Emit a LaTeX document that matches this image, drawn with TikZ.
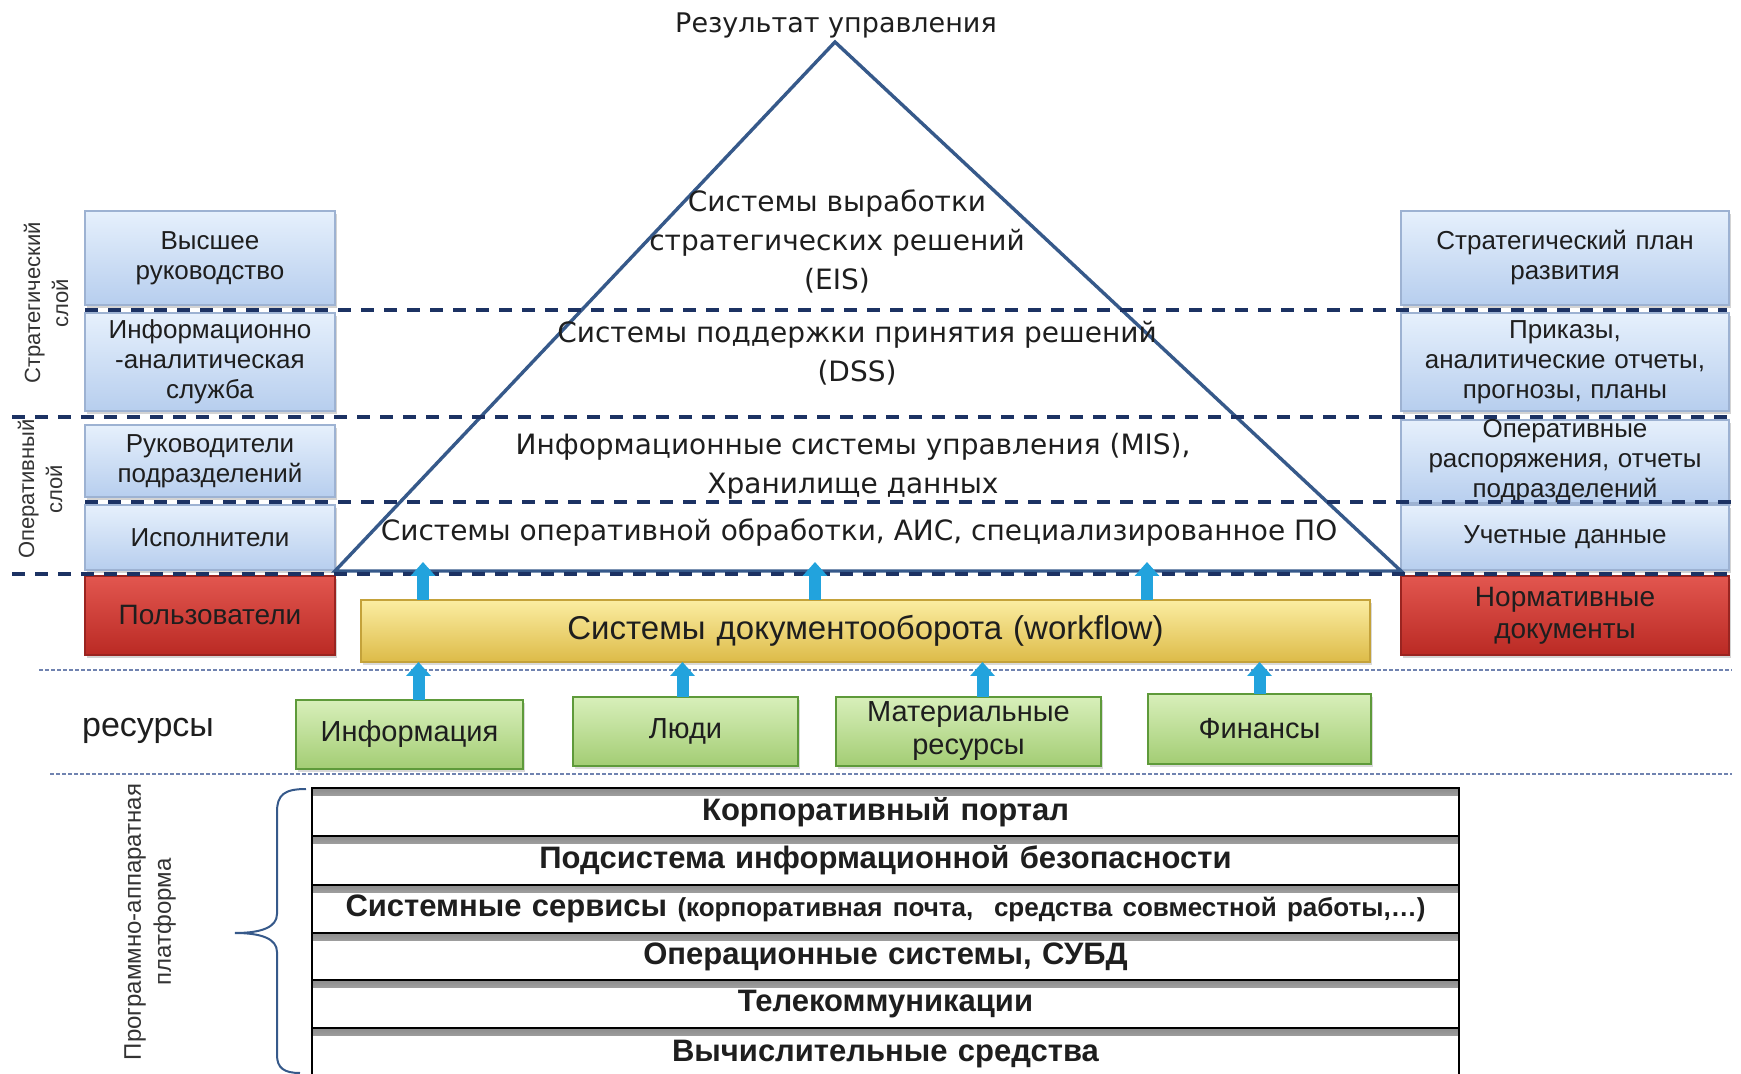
\documentclass[tikz,border=0pt]{standalone}
\usepackage{fontspec}
\setmainfont{Liberation Sans}
\newfontfamily\dvs{DejaVu Sans}
\usetikzlibrary{arrows.meta,shadows}
\definecolor{navy}{HTML}{1C3263}
\definecolor{triblue}{HTML}{36598A}
\definecolor{dotcol}{HTML}{7083B0}
\definecolor{sbTop}{HTML}{E6F0FC}
\definecolor{sbBot}{HTML}{B7CEEE}
\definecolor{sbLine}{HTML}{9DB2D2}
\definecolor{rTop}{HTML}{E2564F}
\definecolor{rBot}{HTML}{BA2A24}
\definecolor{rLine}{HTML}{9A2420}
\definecolor{yTop}{HTML}{FBEDA2}
\definecolor{yBot}{HTML}{DDBB48}
\definecolor{yLine}{HTML}{C4A23A}
\definecolor{gTop}{HTML}{D8EFBA}
\definecolor{gBot}{HTML}{A3CD74}
\definecolor{gLine}{HTML}{5E9A3A}
\definecolor{arrowBlue}{HTML}{22A3DD}
\definecolor{txt}{HTML}{1E1E1E}
\newcommand\mybox[7]{%
  \pgfmathsetmacro\pbW{(#5-#3)*0.5}%
  \pgfmathsetmacro\pbH{(#6-#4)*0.5}%
  \pgfmathsetmacro\pbT{(#5-#3)*0.5-6}%
  \node[#2, minimum width=\pbW pt, minimum height=\pbH pt, text width=\pbT pt] (#1) at ({(#3+#5)/2},{(#4+#6)/2}) {#7};}
\begin{document}
\begin{tikzpicture}[x=0.5pt,y=-0.5pt,
  bx/.style={inner sep=0pt, outer sep=0pt, align=center, text=txt},
  sbox/.style={bx, top color=sbTop, bottom color=sbBot, draw=sbLine, line width=0.8pt,
     drop shadow={shadow xshift=1pt, shadow yshift=-1.5pt, opacity=0.35},
     font=\fontsize{13}{15}\selectfont},
  rbox/.style={bx, top color=rTop, bottom color=rBot, draw=rLine, line width=0.8pt,
     drop shadow={shadow xshift=1pt, shadow yshift=-1.5pt, opacity=0.35},
     font=\fontsize{14}{16}\selectfont},
  ybox/.style={bx, top color=yTop, bottom color=yBot, draw=yLine, line width=0.8pt,
     drop shadow={shadow xshift=1pt, shadow yshift=-1.5pt, opacity=0.3},
     font=\fontsize{16.5}{18}\selectfont},
  gbox/.style={bx, top color=gTop, bottom color=gBot, draw=gLine, line width=1pt,
     drop shadow={shadow xshift=1pt, shadow yshift=-1.5pt, opacity=0.3},
     font=\fontsize{14.5}{16.5}\selectfont},
  rowbox/.style={bx, fill=white, draw=black, line width=1.2pt,
     path picture={\fill[top color=black!45, bottom color=white]
        (path picture bounding box.north west) rectangle ([yshift=-3.5pt]path picture bounding box.north east);},
     font=\bfseries\fontsize{15.5}{18}\selectfont},
  ptext/.style={align=center, text=txt, font=\dvs\fontsize{14}{19.5}\selectfont},
  sidelab/.style={rotate=90, align=center, text=black!80, font=\fontsize{11}{14}\selectfont},
  sep/.style={draw=navy, line width=1.8pt, dash pattern=on 6.5pt off 5pt},
  dotsep/.style={draw=dotcol, line width=1.2pt, dash pattern=on 2pt off 1pt},
  tri/.style={draw=triblue, line width=1.7pt, line join=miter},
  barrow/.style={draw=arrowBlue, line width=6pt, -{Triangle[width=12pt,length=7pt]}},
]
\useasboundingbox (0,0) rectangle (1741,1074);
\clip (0,0) rectangle (1741,1074);

% left boxes
\mybox{vr}{sbox}{85}{211}{335}{305}{Высшее\\руководство}
\mybox{ia}{sbox}{85}{313}{335}{411}{Информационно\\-аналитическая\\служба}
\mybox{rp}{sbox}{85}{425}{335}{497}{Руководители\\подразделений}
\mybox{isp}{sbox}{85}{505}{335}{570}{Исполнители}
\mybox{pol}{rbox}{85}{576}{335}{655}{Пользователи}

% right boxes
\mybox{sp}{sbox}{1401}{211}{1729}{305}{Стратегический план\\развития}
\mybox{pr}{sbox}{1401}{313}{1729}{411}{Приказы,\\аналитические отчеты,\\прогнозы, планы}
\mybox{op}{sbox}{1401}{423}{1729}{500}{Оперативные\\распоряжения, отчеты\\подразделений}
\mybox{ud}{sbox}{1401}{505}{1729}{570}{Учетные данные}
\mybox{nd}{rbox}{1401}{576}{1729}{655}{Нормативные\\документы}

% workflow
\mybox{wf}{ybox}{361}{600}{1370}{662}{Системы документооборота (workflow)}

% resources
\mybox{inf}{gbox}{296}{700}{523}{769}{Информация}
\mybox{ppl}{gbox}{573}{697}{798}{766}{Люди}
\mybox{mat}{gbox}{836}{697}{1101}{766}{Материальные\\ресурсы}
\mybox{fin}{gbox}{1148}{694}{1371}{764}{Финансы}

% platform rows
\mybox{r1}{rowbox}{312}{788}{1459}{836}{Корпоративный портал}
\mybox{r2}{rowbox}{312}{836}{1459}{885}{Подсистема информационной безопасности}
\mybox{r3}{rowbox}{312}{885}{1459}{933}{Системные сервисы {\fontsize{13}{15}\selectfont (корпоративная почта,~ средства совместной работы,…)}}
\mybox{r4}{rowbox}{312}{933}{1459}{980}{Операционные системы, СУБД}
\mybox{r5}{rowbox}{312}{980}{1459}{1028}{Телекоммуникации}
\mybox{r6}{rowbox}{312}{1028}{1459}{1080}{Вычислительные средства}

% triangle
\coordinate (tp) at (835,42);
\coordinate (tl) at (335,571);
\coordinate (tr) at (1401,571);
\draw[tri] (tp) -- (tl) -- (tr) -- cycle;

\node[font=\dvs\fontsize{13.5}{16}\selectfont, text=txt] (title) at (836,25) {Результат управления};
\node[ptext] (eis) at (837,241) {Системы выработки\\стратегических решений\\(EIS)};
\node[ptext] (dss) at (857,353) {Системы поддержки принятия решений\\(DSS)};
\node[ptext] (mis) at (853,466) {Информационные системы управления (MIS),\\Хранилище данных};
\node[ptext] (oltp) at (859,533) {Системы оперативной обработки, АИС, специализированное ПО};

% separators
\draw[sep] (85,310) -- (1727,310);
\draw[sep] (12,417) -- (1727,417);
\draw[sep] (85,502) -- (1732,502);
\draw[sep] (12,574) -- (1727,574);
\draw[dotsep] (39,670) -- (1732,670);
\draw[dotsep] (50,774) -- (1732,774);

% arrows up to the pyramid
\coordinate (a1) at (423,562);
\coordinate (a2) at (815,562);
\coordinate (a3) at (1147,562);
\draw[barrow] (a1 |- wf.north) -- (a1);
\draw[barrow] (a2 |- wf.north) -- (a2);
\draw[barrow] (a3 |- wf.north) -- (a3);

% arrows from resources
\draw[barrow] ([xshift=4.5pt]inf.north) -- ([xshift=4.5pt]inf.north |- wf.south);
\draw[barrow] ([xshift=-1.5pt]ppl.north) -- ([xshift=-1.5pt]ppl.north |- wf.south);
\draw[barrow] ([xshift=7pt]mat.north) -- ([xshift=7pt]mat.north |- wf.south);
\draw[barrow] (fin.north) -- (fin.north |- wf.south);

% side labels
\node[sidelab] (strat) at (46,303) {Стратегический\\слой};
\node[sidelab] (oper) at (40,489) {Оперативный\\слой};
\node[sidelab, font=\fontsize{12}{15}\selectfont] (plat) at (150,922) {Программно-аппаратная\\платформа};
\node[font=\fontsize{17}{20}\selectfont, text=txt] (res) at (148,731) {ресурсы};

% brace
\draw[draw=triblue, line width=1pt]
  (306,789) .. controls (284,789) and (277,795) .. (277,812) -- (277,914)
  .. controls (277,927) and (262,933) .. (235,933)
  .. controls (262,933) and (277,939) .. (277,952) -- (277,1055)
  .. controls (277,1068) and (284,1073) .. (300,1073);
\end{tikzpicture}
\end{document}
